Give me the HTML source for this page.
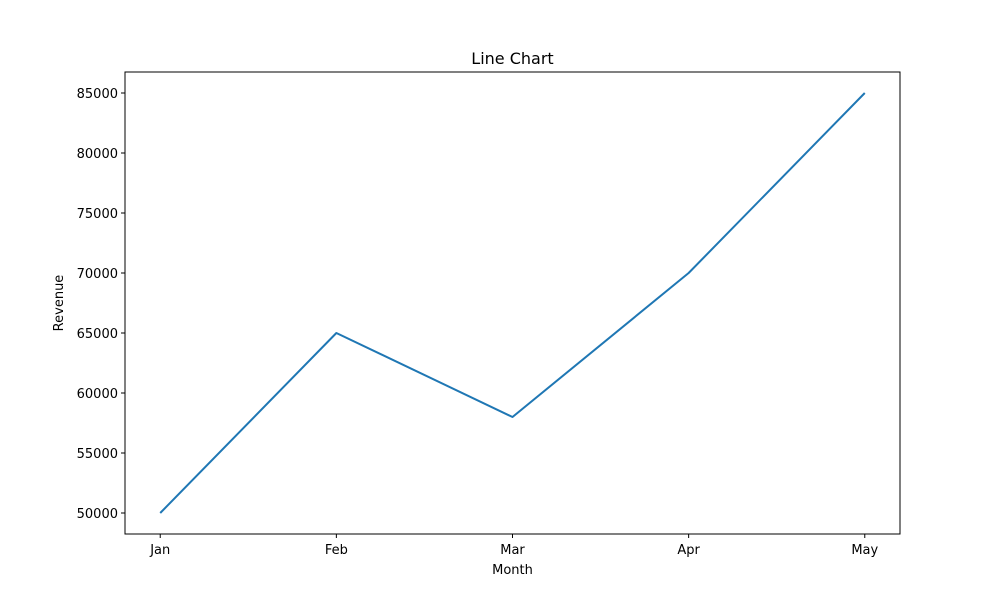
<!DOCTYPE html>
<html><head><meta charset="utf-8"><style>
body{margin:0;background:#fff}
svg{display:block;font-family:"DejaVu Sans","Liberation Sans",sans-serif}
</style></head><body>
<svg id="chart" width="1000" height="600">
<rect width="1000" height="600" fill="#fff"/>
<text x="512.5" y="64" font-size="16" text-anchor="middle">Line Chart</text>
<text x="512.5" y="574" font-size="13" text-anchor="middle">Month</text>
<text transform="translate(63,303) rotate(-90)" font-size="13" text-anchor="middle">Revenue</text>
<g id="ticks"></g>
<path id="line" fill="none" stroke="#1f77b4" stroke-width="2" stroke-linejoin="round"/>
<rect x="125" y="72" width="775" height="462" fill="none" stroke="#000" stroke-width="1"/>
</svg>
<script>
const categories=["Jan","Feb","Mar","Apr","May"];
const revenue=[50000,65000,58000,70000,85000];
const yTicks=[50000,55000,60000,65000,70000,75000,80000,85000];
const L=125,R=900,T=72,B=534;
const ymin=Math.min(...revenue),ymax=Math.max(...revenue),pad=(ymax-ymin)*0.05;
const y0=ymin-pad,y1=ymax+pad;
const n=categories.length,x0=-0.2,x1=n-1+0.2;
const sx=i=>L+(i-x0)/(x1-x0)*(R-L);
const sy=v=>B-(v-y0)/(y1-y0)*(B-T);
const NS="http://www.w3.org/2000/svg";
const g=document.getElementById('ticks');
function mk(tag,attrs,text){const e=document.createElementNS(NS,tag);for(const k in attrs)e.setAttribute(k,attrs[k]);if(text!==undefined)e.textContent=text;g.appendChild(e);return e;}
categories.forEach((c,i)=>{
  const x=sx(i);
  const t=mk('line',{x1:x,x2:x,y1:B,y2:B+4,stroke:'#000'});
  
  
  const l=mk('text',{x:x,y:B+20,'font-size':13,'text-anchor':'middle'},c);
  
  
});
yTicks.forEach(v=>{
  const y=sy(v);
  const t=mk('line',{x1:L-4,x2:L,y1:y,y2:y,stroke:'#000'});
  
  
  const l=mk('text',{x:L-7,y:y+5,'font-size':13,'text-anchor':'end'},String(v));
  
  
});
document.getElementById('line').setAttribute('d',revenue.map((v,i)=>(i?'L':'M')+sx(i)+','+sy(v)).join(' '));
</script>
</body></html>
